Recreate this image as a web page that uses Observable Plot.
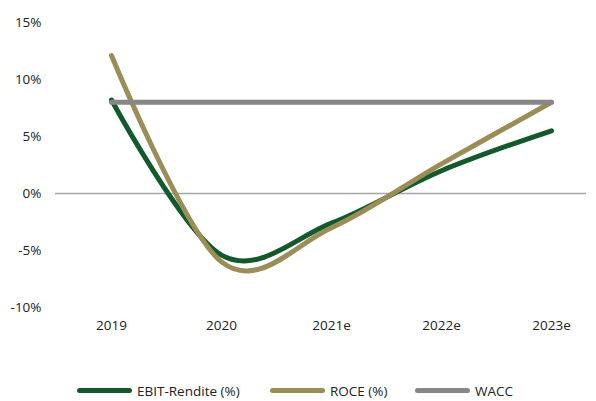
<!DOCTYPE html>
<html>
<head>
<meta charset="utf-8">
<script src="https://cdn.jsdelivr.net/npm/d3@7"></script>
<script src="https://cdn.jsdelivr.net/npm/@observablehq/plot@0.6"></script>
<style>
  body { margin: 0; background: #fff; font-family: "Open Sans", sans-serif; }
  #legend { height: 21px; font-size: 13.5px; color: #222; }
  .item { position: absolute; top: 0; height: 21px; display: flex; align-items: center; }
  .sw { width: 55px; height: 5px; border-radius: 3px; margin-right: 5px; }
</style>
</head>
<body>
<div id="chart"></div>
<div id="legend" style="position:relative"></div>
<script>
const years = ["2019", "2020", "2021e", "2022e", "2023e"];
const ebit = [8.2, -5.4, -2.6, 2.0, 5.5];
const roce = [12.1, -6.0, -3.0, 2.6, 8.0];
const wacc = [8.0, 8.0, 8.0, 8.0, 8.0];
const seriesNames = ["EBIT-Rendite (%)", "ROCE (%)", "WACC"];
const colors = ["#12592b", "#9b8d57", "#878787"];
const yTicks = [-10, -5, 0, 5, 10, 15];

const rows = [];
[ebit, roce, wacc].forEach((vals, s) => {
  years.forEach((y, i) => rows.push({series: seriesNames[s], year: y, value: vals[i]}));
});

const chart = Plot.plot({
  width: 596,
  height: 380,
  marginLeft: 55,
  marginRight: 10,
  marginTop: 22,
  marginBottom: 73,
  style: {fontFamily: "Open Sans, sans-serif", fontSize: "13.5px", color: "#222"},
  x: {type: "point", domain: years, padding: 0, insetLeft: 55, insetRight: 35, label: null, tickSize: 0, tickPadding: 13},
  y: {domain: [-10, 15], ticks: yTicks, tickFormat: d => d + "%", label: null, tickSize: 0, tickPadding: 14},
  color: {domain: seriesNames, range: colors},
  marks: [
    Plot.ruleY([0], {stroke: "#a6a6a6", strokeWidth: 1.5}),
    ...seriesNames.map(name => Plot.line(rows.filter(d => d.series === name), {
      x: "year", y: "value", stroke: "series", strokeWidth: 5,
      strokeLinecap: "round", strokeLinejoin: "round",
      curve: name === "WACC" ? "linear" : "cardinal"
    }))
  ]
});
document.getElementById("chart").appendChild(chart);

const legend = document.getElementById("legend");
const lx = [77, 270, 415];
seriesNames.forEach((name, i) => {
  const it = document.createElement("div");
  it.className = "item";
  it.style.left = lx[i] + "px";
  const sw = document.createElement("span");
  sw.className = "sw";
  sw.style.background = colors[i];
  const t = document.createElement("span");
  t.textContent = name;
  it.appendChild(sw); it.appendChild(t);
  legend.appendChild(it);
});
</script>
</body>
</html>
